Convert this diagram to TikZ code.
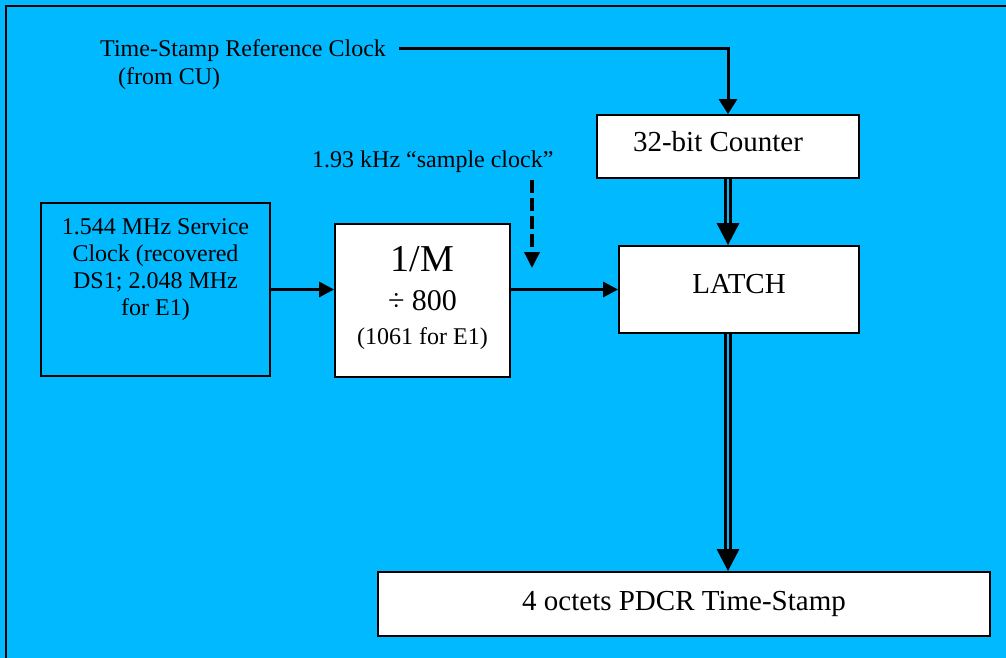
\documentclass[tikz,border=0pt]{standalone}
\usepackage{fontspec}
\setmainfont{Liberation Serif}
\usetikzlibrary{arrows.meta}
\definecolor{bgblue}{RGB}{0,185,255}
\newcommand\myfs[2]{\fontsize{#1}{#2}\selectfont}
\begin{document}
\begin{tikzpicture}[x=1pt,y=-1pt,
  box/.style={draw=black,line width=1.8pt,fill=white,inner sep=0pt,rectangle},
  txt/.style={inner sep=0pt},
  arr/.style={draw=black,line width=3pt,-{Triangle[width=15pt,length=15pt]}},
  dbl/.style={draw=black,line width=3pt,double=bgblue,double distance=1.4pt,
    -{Triangle[width=22pt,length=22pt]}},
  dsh/.style={draw=black,line width=3.5pt,dash pattern=on 13pt off 5pt,
    -{Triangle[width=15pt,length=16pt]}}]
\useasboundingbox (0,0) rectangle (1006,658);
\fill[bgblue] (0,0) rectangle (1006,658);
\draw[line width=2.2pt] (6,658) -- (6,6) -- (1006,6);

% boxes
\node[box,fill=bgblue,minimum width=229pt,minimum height=173pt,align=center,
  font=\myfs{24}{27}] (svc) at (155.5,289.5)
  {1.544 MHz Service\\Clock (recovered\\DS1; 2.048 MHz\\for E1)\rule[-44pt]{0pt}{0pt}};
\node[box,minimum width=175pt,minimum height=153pt,align=center,
  font=\myfs{24}{34}] (divm) at (422.5,300.5)
  {{\myfs{38}{38}1/M}\\[5pt]{\myfs{30}{30}÷ 800}\\(1061 for E1)\rule[-10pt]{0pt}{0pt}};
\node[box,minimum width=262pt,minimum height=63pt,font=\myfs{29}{32},
  text height=20pt,text depth=11pt] (counter) at (728,146.5)
  {32-bit Counter\rule{20pt}{0pt}};
\node[box,minimum width=240pt,minimum height=87pt,font=\myfs{29}{32},
  text height=20pt,text depth=13pt] (latch) at (739,289.5) {LATCH};
\node[box,minimum width=612pt,minimum height=64pt,font=\myfs{29}{32},
  text height=20pt,text depth=8pt] (stamp) at (684,604)
  {4 octets PDCR Time-Stamp};

% labels
\node[txt,anchor=north west,align=left,font=\myfs{24}{28}] (tsref) at (100,39)
  {Time-Stamp Reference Clock\\\hspace*{18pt}(from CU)};
\node[txt,anchor=base west,font=\myfs{24}{27}] (smp) at (312,167)
  {1.93 kHz “sample clock”};

% connectors
\coordinate (clkstart) at (399,49);
\draw[arr,-{Triangle[width=18pt,length=15pt]}] (clkstart) -| (counter.north);
\draw[arr] (svc.east) -- (svc.east -| divm.west);
\draw[arr] (divm.east |- latch.west) -- (latch.west);
\coordinate (dstart) at (532,180);
\coordinate (dend) at (532,268);
\draw[dsh] (dstart) -- (dend);
\draw[dbl] (counter.south) -- (counter.south |- latch.north);
\draw[dbl] (counter.south |- latch.south) -- (counter.south |- stamp.north);
\end{tikzpicture}
\end{document}
